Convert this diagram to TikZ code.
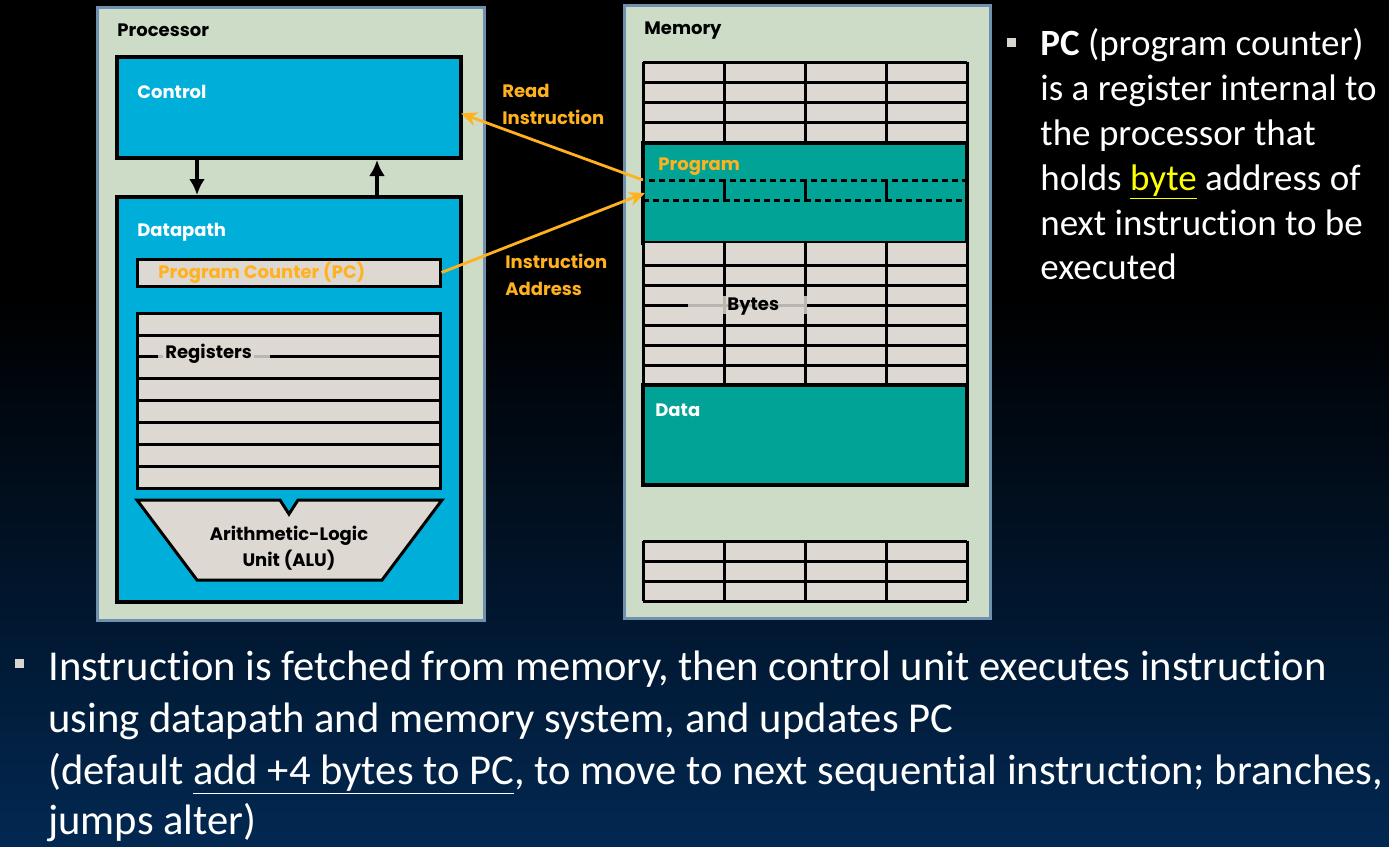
\documentclass[tikz,border=0pt]{standalone}
\usepackage{fontspec}
\setmainfont{Carlito}[Ligatures={NoCommon}]
\newfontfamily\lab{Poppins}
\usetikzlibrary{arrows.meta,fit}
\definecolor{navy}{RGB}{2,40,82}
\definecolor{panel}{RGB}{204,220,198}
\definecolor{panelborder}{RGB}{112,144,176}
\definecolor{cyanbox}{RGB}{0,174,218}
\definecolor{tealbox}{RGB}{0,163,150}
\definecolor{cell}{RGB}{222,216,210}
\definecolor{orng}{RGB}{255,178,30}
\definecolor{maskgray}{RGB}{185,182,178}
\definecolor{bullet}{RGB}{216,214,206}
\definecolor{hiyellow}{RGB}{255,255,0}
\tikzset{
  panelbox/.style={draw=panelborder, fill=panel, line width=1.5pt, inner sep=0pt},
  unitbox/.style={draw=black, line width=2pt, inner sep=0pt},
  lbl/.style={font=\lab\bfseries\fontsize{9}{10}\selectfont, anchor=west, inner sep=0pt},
  gridline/.style={draw=black, line width=1.5pt},
  blackarrow/.style={draw=black, line width=1.6pt, -{Latex[length=8pt,width=8pt]}},
  orangearrow/.style={draw=orng, line width=1.4pt, -{Stealth[length=8pt,width=7pt]}},
  bodytext/.style={text=white, anchor=base west, inner sep=0pt, font=\fontsize{21.3}{24}\selectfont},
  sidetext/.style={text=white, anchor=base west, inner sep=0pt, font=\fontsize{18.5}{20}\selectfont},
  bulletsq/.style={fill=bullet, draw=none}
}
\begin{document}
\begin{tikzpicture}[x=0.5pt,y=-0.5pt]
\useasboundingbox (0,0) rectangle (1389,847);
% background
\fill[black] (0,0) rectangle (1389,300);
\shade[top color=black, bottom color=navy] (0,299) rectangle (1389,847);

% ---------------- Processor ----------------
\node[panelbox, fit={(97,7)(484,620)}] (proc) {};
\node[lbl] (proclbl) at (117,30) {Processor};
\node[unitbox, fill=cyanbox, fit={(117,57)(461,158)}] (control) {};
\node[lbl, text=white] (controllbl) at (137,92) {Control};
\node[unitbox, fill=cyanbox, fit={(117,197)(461,602)}] (datapath) {};
\node[lbl, text=white] (dplbl) at (137,232) {Datapath};
\draw[blackarrow] ([xshift=41pt]control.south west) -- ([xshift=41pt]datapath.north west);
\draw[blackarrow] ([xshift=131pt]datapath.north west) -- ([xshift=131pt]control.south west);

% Program counter
\node[draw=black, line width=1.5pt, fill=cell, inner sep=0pt, fit={(137,259)(440,286)}] (pc) {};
\node[lbl, text=orng] (pclbl) at (158,273) {Program Counter (PC)};

% Registers
\node[draw=black, line width=1.5pt, fill=cell, inner sep=0pt, fit={(137,313)(440,488)}] (regs) {};
\foreach \y in {335,356,378,400,422,444,466}
  \draw[gridline] (137,\y) -- (440,\y);
\draw[maskgray, line width=1.5pt] (158,356) -- (270,356);
\node[lbl, fill=cell, inner xsep=1pt, inner ysep=1pt] (reglbl) at (163,354) {Registers};

% ALU
\draw[draw=black, line width=1.5pt, fill=cell]
  (137,500) -- (280,500) -- (289,514) -- (298,500) -- (442,500) -- (382,580) -- (197,580) -- cycle;
\node[font=\lab\bfseries\fontsize{9}{13}\selectfont, align=center, inner sep=0pt] (alu) at (289,548) {Arithmetic-Logic\\Unit (ALU)};

% ---------------- Memory ----------------
\node[panelbox, fit={(624,5)(990,618)}] (mem) {};
\node[lbl] (memlbl) at (644,31) {Memory};

% top block
\fill[cell] (643,62) rectangle (967,143);
\foreach \y in {62,82,102,122} \draw[gridline] (643,\y) -- (967,\y);
\foreach \x in {643,724,805,886,967} \draw[gridline] (\x,62) -- (\x,143);

% program
\node[unitbox, fill=tealbox, fit={(643,143)(967,243)}] (program) {};
\node[lbl, text=orng] (proglbl) at (658,167) {Program};
\foreach \x/\xx in {643/724,724/805,805/886,886/967}
  \draw[black, line width=1.5pt, dash pattern=on 3pt off 2pt] (\x,180) rectangle (\xx,200);
\coordinate (instr) at (643,180);
\coordinate (instrin) at (645,193);

% middle block
\fill[cell] (643,243) rectangle (967,385);
\foreach \y in {265,285,305,325,345,365} \draw[gridline] (643,\y) -- (967,\y);
\foreach \x in {643,724,805,886,967} \draw[gridline] (\x,243) -- (\x,385);
\draw[maskgray, line width=1.5pt] (688,305) -- (807,305);
\draw[maskgray, line width=1.5pt] (724,296) -- (724,314);
\draw[maskgray, line width=1.5pt] (805,296) -- (805,314);
\node[lbl] (byteslbl) at (727,307) {Bytes};

% data
\node[unitbox, fill=tealbox, fit={(643,385)(967,485)}] (data) {};
\node[lbl, text=white] (datalbl) at (655,410) {Data};

% bottom block
\fill[cell] (643,541) rectangle (967,601);
\foreach \y in {541,561,581,601} \draw[gridline] (643,\y) -- (967,\y);
\foreach \x in {643,724,805,886,967} \draw[gridline] (\x,541) -- (\x,601);

% ---------------- orange connectors ----------------
\draw[orangearrow] (instr) -- ([xshift=-1pt,yshift=-3pt]control.east);
\draw[orangearrow] (pc.east) -- (instrin);
\node[lbl, text=orng, align=left, font=\lab\bfseries\fontsize{9}{13.5}\selectfont] (readlbl) at (502,104) {Read\\Instruction};
\node[lbl, text=orng, align=left, font=\lab\bfseries\fontsize{9}{13.5}\selectfont] (addrlbl) at (505,275) {Instruction\\Address};

% ---------------- right text ----------------
\fill[bulletsq] (1007,38) rectangle (1016,47);
\node[sidetext] (r1) at (1040,55) {\textbf{PC} (program counter)};
\node[sidetext] (r2) at (1040,100) {is a register internal to};
\node[sidetext] (r3) at (1040,145) {the processor that};
\node[sidetext] (r4) at (1040,190) {holds \textcolor{hiyellow}{\underline{byte}} address of};
\node[sidetext] (r5) at (1040,235) {next instruction to be};
\node[sidetext] (r6) at (1040,279) {executed};

% ---------------- bottom text ----------------
\fill[bulletsq] (15,659) rectangle (24,668);
\node[bodytext] (b1) at (48,680) {Instruction is fetched from memory, then control unit executes instruction};
\node[bodytext] (b2) at (48,732) {using datapath and memory system, and updates PC};
\node[bodytext] (b3) at (48,784) {(default \underline{add +4 bytes to PC}, to move to next sequential instruction; branches,};
\node[bodytext] (b4) at (48,834) {jumps alter)};
\end{tikzpicture}
\end{document}
